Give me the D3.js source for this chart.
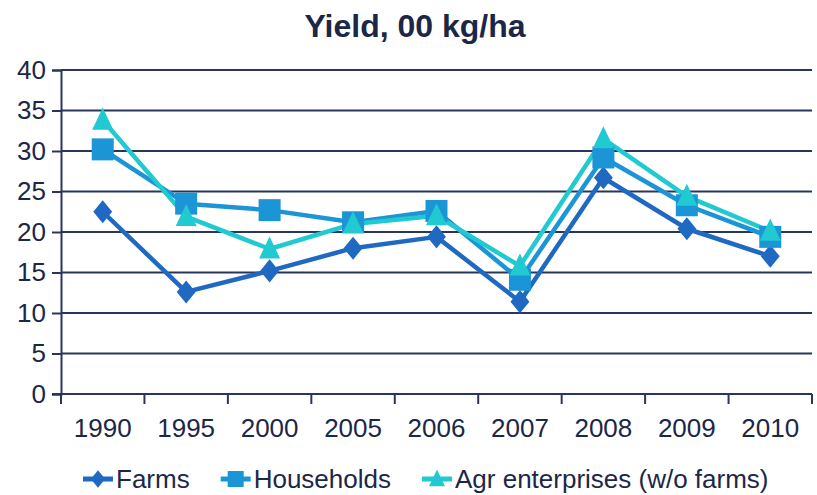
<!DOCTYPE html>
<html>
<head>
<meta charset="utf-8">
<script src="https://cdn.jsdelivr.net/npm/d3@7"></script>
<style>
  body { margin: 0; background: #fff; }
  svg text { font-family: "Liberation Sans", Arial, sans-serif; fill: #1c2747; }
</style>
</head>
<body>
<svg id="chart" width="817" height="495"></svg>
<script>
// data
const years = ["1990", "1995", "2000", "2005", "2006", "2007", "2008", "2009", "2010"];
const farms = [22.5, 12.6, 15.2, 18.0, 19.4, 11.4, 26.7, 20.4, 17.0];
const households = [30.2, 23.5, 22.7, 21.2, 22.6, 14.1, 29.2, 23.3, 19.4];
const agrEnterprises = [33.8, 21.9, 17.9, 21.0, 22.0, 15.8, 31.5, 24.4, 20.1];
const yTicks = [0, 5, 10, 15, 20, 25, 30, 35, 40];

const series = [
  { name: "Farms", values: farms, color: "#1f69c3", shape: "diamond" },
  { name: "Households", values: households, color: "#1b95d6", shape: "square" },
  { name: "Agr enterprises (w/o farms)", values: agrEnterprises, color: "#21c9d0", shape: "triangle" }
];

const margin = { left: 61, right: 5, top: 70, bottom: 101 };
const width = 817, height = 495;
const svg = d3.select("#chart");
const axisColor = "#27365a";

const x = d3.scaleBand().domain(years).range([margin.left, width - margin.right]);
const y = d3.scaleLinear().domain([0, 40]).range([height - margin.bottom, margin.top]);

// title
svg.append("text")
  .attr("x", 415).attr("y", 37)
  .attr("text-anchor", "middle")
  .style("font-size", "32px").style("font-weight", "bold")
  .text("Yield, 00 kg/ha");

// gridlines
svg.append("g")
  .selectAll("line")
  .data(yTicks.filter(d => d > 0))
  .join("line")
  .attr("x1", margin.left).attr("x2", width - margin.right)
  .attr("y1", d => y(d)).attr("y2", d => y(d))
  .attr("stroke", axisColor).attr("stroke-width", 2);

// y axis
const yAxis = svg.append("g")
  .attr("transform", `translate(${margin.left},0)`)
  .call(d3.axisLeft(y).tickValues(yTicks).tickSize(9).tickPadding(6));
yAxis.select(".domain").attr("stroke", axisColor).attr("stroke-width", 2);
yAxis.selectAll(".tick line").attr("stroke", axisColor).attr("stroke-width", 2);
yAxis.selectAll(".tick text").style("font-size", "26px").attr("fill", "#1c2747")
  .style("font-family", "Liberation Sans, Arial, sans-serif");

// x axis: ticks on category boundaries
const xAxis = svg.append("g")
  .attr("transform", `translate(0,${y(0)})`);
xAxis.append("line")
  .attr("x1", margin.left - 9).attr("x2", width - margin.right)
  .attr("stroke", axisColor).attr("stroke-width", 2);
const bounds = years.map(d => x(d)).concat([x(years[years.length - 1]) + x.bandwidth()]);
xAxis.selectAll("line.tk")
  .data(bounds)
  .join("line").attr("class", "tk")
  .attr("x1", d => d).attr("x2", d => d)
  .attr("y1", 0).attr("y2", 10)
  .attr("stroke", axisColor).attr("stroke-width", 2);
xAxis.selectAll("text")
  .data(years)
  .join("text")
  .attr("x", d => x(d) + x.bandwidth() / 2)
  .attr("y", 43)
  .attr("text-anchor", "middle")
  .style("font-size", "26px")
  .text(d => d);

// marker shapes
function markerPath(shape, s) {
  if (shape === "diamond") {
    return `M0,${-s * 0.55}L${s * 0.45},0L0,${s * 0.55}L${-s * 0.45},0Z`;
  } else if (shape === "square") {
    return `M${-s / 2},${-s / 2}h${s}v${s}h${-s}Z`;
  }
  return `M0,${-s * 0.6}L${s * 0.5},${s * 0.45}L${-s * 0.5},${s * 0.45}Z`;
}

const line = d3.line()
  .x((d, i) => x(years[i]) + x.bandwidth() / 2)
  .y(d => y(d));

// lines
svg.append("g")
  .selectAll("path")
  .data(series)
  .join("path")
  .attr("d", d => line(d.values))
  .attr("fill", "none")
  .attr("stroke", d => d.color)
  .attr("stroke-width", 4.5)
  .attr("stroke-linejoin", "round");

// markers
series.forEach(s => {
  svg.append("g")
    .selectAll("path")
    .data(s.values)
    .join("path")
    .attr("transform", (d, i) => `translate(${x(years[i]) + x.bandwidth() / 2},${y(d)})`)
    .attr("d", markerPath(s.shape, s.shape === "square" ? 22 : 21))
    .attr("fill", s.color);
});

// legend
const legend = svg.append("g").attr("transform", "translate(0,479)");
let lx = 83;
series.forEach(s => {
  const g = legend.append("g").attr("transform", `translate(${lx},0)`);
  g.append("line").attr("x1", 0).attr("x2", 30).attr("stroke", s.color).attr("stroke-width", 5);
  g.append("path").attr("transform", "translate(15,0)")
    .attr("d", markerPath(s.shape, 16)).attr("fill", s.color);
  const t = g.append("text").attr("x", 33).attr("y", 9)
    .style("font-size", "26px").text(s.name);
  lx += 33 + t.node().getComputedTextLength() + 31;
});
</script>
</body>
</html>
